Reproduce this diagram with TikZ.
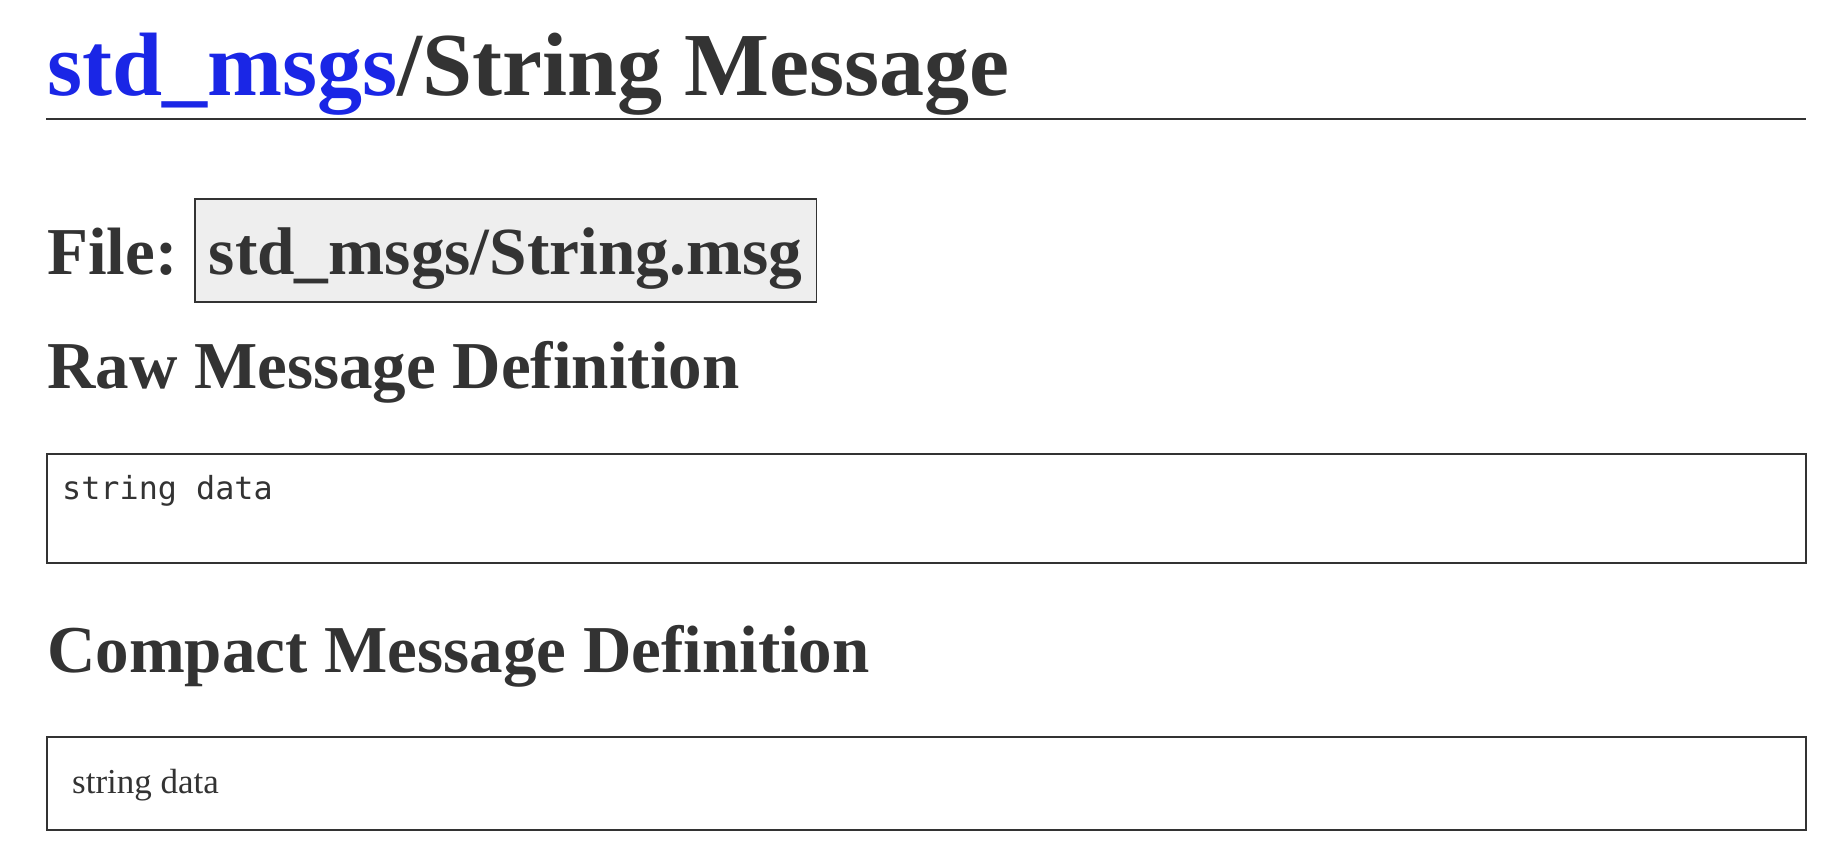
\documentclass[tikz,border=0pt]{standalone}
\usepackage{fontspec}
\setmainfont{Liberation Serif}
\newfontfamily\codefont{DejaVu Sans Mono}
\definecolor{txt}{HTML}{333333}
\definecolor{linkblue}{RGB}{26,38,230}
\definecolor{filebg}{HTML}{EEEEEE}
\tikzset{
  txtnode/.style={inner sep=0pt, anchor=base west, text=txt},
  hone/.style={txtnode, font=\bfseries\fontsize{90}{100}\selectfont},
  htwo/.style={txtnode, font=\bfseries\fontsize{67}{75}\selectfont},
  panel/.style={draw=txt, line width=1.6pt, minimum width=1759pt, anchor=north west, inner sep=0pt},
}
\begin{document}
\begin{tikzpicture}[x=1pt,y=-1pt]
\useasboundingbox (0,0) rectangle (1830,864);
% title
\node[hone] (title) at (47,96) {{\color{linkblue}std\_msgs}/String Message};
\coordinate (ruleL) at (46,119);
\coordinate (ruleR) at (1806,119);
\draw[txt, line width=2pt] (ruleL) -- (ruleR);
% file line
\node[htwo] (filelbl) at (47,274) {File:};
\node[htwo, draw=txt, fill=filebg, line width=1.6pt, inner xsep=14pt, inner ysep=0pt,
      text height=75pt, text depth=28pt, font=\bfseries\fontsize{67.4}{75}\selectfont]
      (filename) at (194,274) {std\_msgs/String.msg};
% raw
\node[htwo] (rawh) at (47,388) {Raw Message Definition};
\node[panel, minimum height=109pt] (rawbox) at (46,453) {};
\node[txtnode, font=\codefont\fontsize{31.8}{36}\selectfont] (rawtxt) at (62,499) {string data};
% compact
\node[htwo] (comph) at (47,672) {Compact Message Definition};
\node[panel, minimum height=93pt] (compbox) at (46,736) {};
\node[txtnode, font=\fontsize{35}{40}\selectfont] (comptxt) at (72,793) {string data};
\end{tikzpicture}
\end{document}
